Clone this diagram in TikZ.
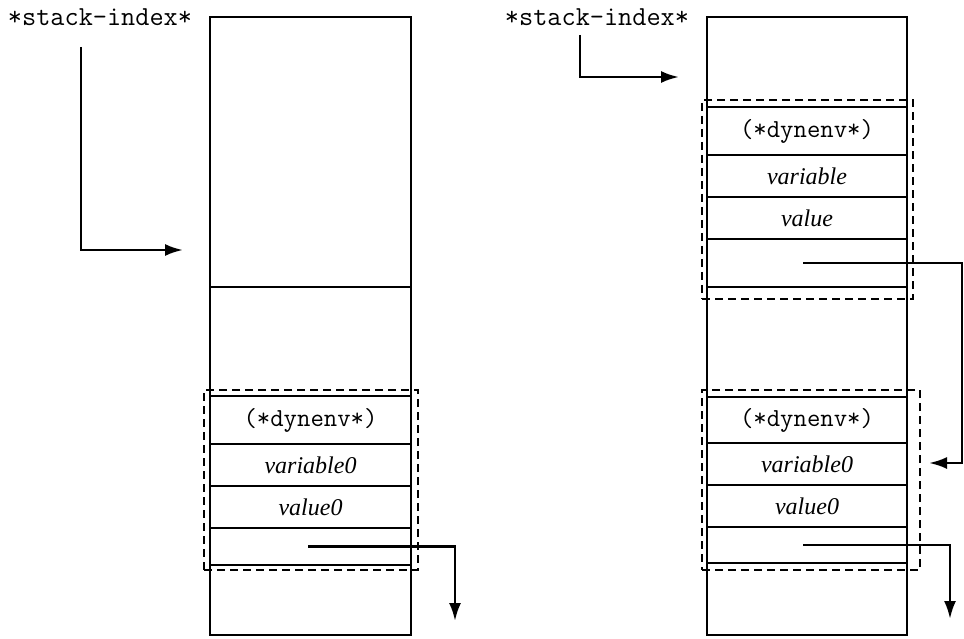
\documentclass[tikz,border=0pt]{standalone}
\usepackage{fontspec}
\setmainfont{Liberation Serif}
\usetikzlibrary{arrows.meta}
\begin{document}
\begin{tikzpicture}[x=1pt,y=-1pt,
  cell/.style={draw, line width=2pt, inner sep=0pt, minimum width=#1},
  lcell/.style={cell=201pt},
  rcell/.style={cell=200pt},
  outline/.style={draw, line width=2.8pt, inner sep=0pt},
  dbox/.style={draw, line width=2.3pt, dash pattern=on 8pt off 5pt, inner sep=0pt},
  arr/.style={line width=2.6pt, -{Latex[length=18pt,width=12pt]}},
  mono/.style={font=\fontsize{26}{29}\selectfont\ttfamily},
  ital/.style={font=\fontsize{24}{27}\selectfont\itshape}]
\useasboundingbox (0,0) rectangle (964,639);
% left stack
\node[lcell, minimum height=270pt] (L0) at (310.5,152) {};
\node[lcell, minimum height=109pt] (L1) at (310.5,341.5) {};
\node[lcell, minimum height=48pt, mono] (Ldyn) at (310.5,420) {(*dynenv*)};
\node[lcell, minimum height=42pt, ital] (Lvar) at (310.5,465) {variable0};
\node[lcell, minimum height=42pt, ital] (Lval) at (310.5,507) {value0};
\node[lcell, minimum height=37pt] (Lptr) at (310.5,546.5) {};
\node[lcell, minimum height=70pt] (Lbot) at (310.5,600) {};
\node[outline, minimum width=201pt, minimum height=618pt] (Lstack) at (310.5,326) {};
\node[dbox, minimum width=214pt, minimum height=180pt] (Ldash) at (311,480) {};
% right stack
\node[rcell, minimum height=90pt] (R0) at (807,62) {};
\node[rcell, minimum height=48pt, mono] (Rdyn) at (807,131) {(*dynenv*)};
\node[rcell, minimum height=42pt, ital] (Rvar) at (807,176) {variable};
\node[rcell, minimum height=42pt, ital] (Rval) at (807,218) {value};
\node[rcell, minimum height=48pt] (Rptr) at (807,263) {};
\node[rcell, minimum height=110pt] (R1) at (807,342) {};
\node[rcell, minimum height=46pt, mono] (R2dyn) at (807,420) {(*dynenv*)};
\node[rcell, minimum height=42pt, ital] (R2var) at (807,464) {variable0};
\node[rcell, minimum height=42pt, ital] (R2val) at (807,506) {value0};
\node[rcell, minimum height=36pt] (R2ptr) at (807,545) {};
\node[rcell, minimum height=72pt] (Rbot) at (807,599) {};
\node[outline, minimum width=200pt, minimum height=618pt] (Rstack) at (807,326) {};
\node[dbox, minimum width=211pt, minimum height=199pt] (Rdash1) at (807.5,199.5) {};
\node[dbox, minimum width=218pt, minimum height=180pt] (Rdash2) at (811,480) {};
% labels
\node[font=\fontsize{27.5}{30}\selectfont\ttfamily, inner sep=0pt] (Llab) at (100,17) {*stack-index*};
\node[font=\fontsize{27.5}{30}\selectfont\ttfamily, inner sep=0pt] (Rlab) at (597,17) {*stack-index*};
% coordinates
\coordinate (la) at (81,47);
\coordinate (lt) at (183,250);
\coordinate (ra) at (580,35);
\coordinate (rt) at (679,77);
\coordinate (lp) at (455,621);
\coordinate (rp1) at (962,263);
\coordinate (rp1t) at (929,463);
\coordinate (rp2) at (950,619);
% arrows
\draw[arr] (la) |- (lt);
\draw[arr] (ra) |- (rt);
\draw[arr] (Lptr.center -| 308,0) -| (lp);
\draw[arr] (Rptr.center -| 803,0) -- (rp1) |- (rp1t);
\draw[arr] (R2ptr.center -| 803,0) -| (rp2);
\end{tikzpicture}
\end{document}
